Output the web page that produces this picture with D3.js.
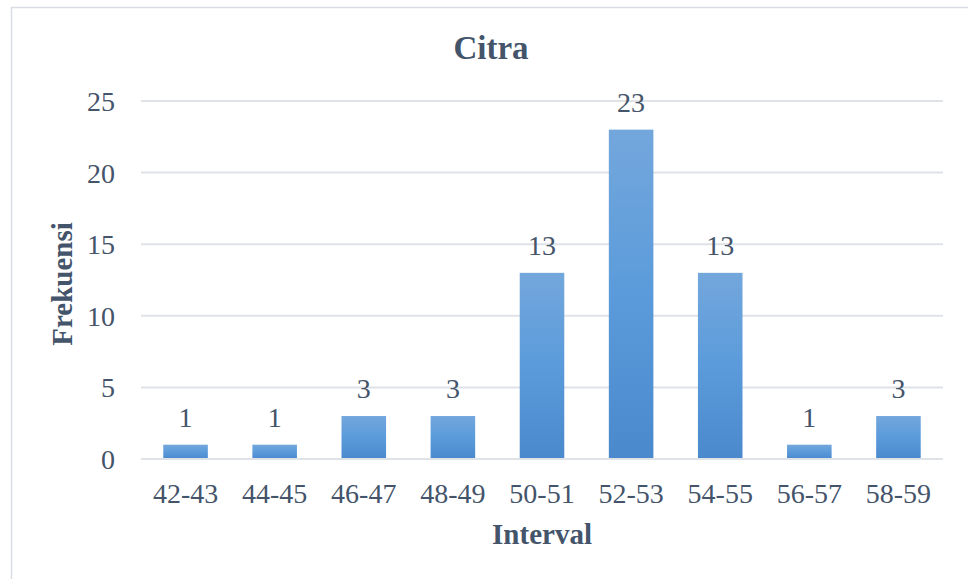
<!DOCTYPE html>
<html>
<head>
<meta charset="utf-8">
<script src="https://cdn.jsdelivr.net/npm/d3@7/dist/d3.min.js"></script>
<style>
  html, body { margin: 0; padding: 0; background: #fff; }
  svg { display: block; }
  text { font-family: "Liberation Serif", "Times New Roman", serif; fill: #44546a; }
</style>
</head>
<body>
<svg id="chart" width="968" height="579"></svg>
<script>
// Frequency distribution of "Citra" scores
const categories = ["42-43", "44-45", "46-47", "48-49", "50-51", "52-53", "54-55", "56-57", "58-59"];
const frequencies = [1, 1, 3, 3, 13, 23, 13, 1, 3];
const yTicks = [0, 5, 10, 15, 20, 25];

const svg = d3.select("#chart");
const W = 968, H = 579;
const plot = { left: 141, right: 943, top: 101, bottom: 459 };

// chart frame
svg.append("rect")
  .attr("x", 11.5).attr("y", 7.5)
  .attr("width", W + 10).attr("height", H + 10)
  .attr("fill", "#fff")
  .attr("stroke", "#d9dde3").attr("stroke-width", 1.5);

const defs = svg.append("defs");
const grad = defs.append("linearGradient")
  .attr("id", "barFill").attr("x1", 0).attr("y1", 0).attr("x2", 0).attr("y2", 1);
grad.append("stop").attr("offset", "0%").attr("stop-color", "#73a7dc");
grad.append("stop").attr("offset", "50%").attr("stop-color", "#5b9bdb");
grad.append("stop").attr("offset", "100%").attr("stop-color", "#4a89cc");

const x = d3.scaleBand().domain(categories)
  .range([plot.left, plot.right]).paddingInner(0.5).paddingOuter(0.25);
const y = d3.scaleLinear().domain([0, 25]).range([plot.bottom, plot.top]);

// horizontal gridlines
svg.append("g").selectAll("line").data(yTicks).join("line")
  .attr("x1", plot.left).attr("x2", plot.right)
  .attr("y1", d => y(d)).attr("y2", d => y(d))
  .attr("stroke", "#dfe2e7").attr("stroke-width", 2);

// y axis tick labels
const yAxis = d3.axisLeft(y).tickValues(yTicks).tickSize(0).tickPadding(26);
const gy = svg.append("g").attr("transform", `translate(${plot.left},0)`).call(yAxis);
gy.select(".domain").remove();
gy.selectAll("text")
  .attr("font-family", "Liberation Serif, Times New Roman, serif")
  .attr("font-size", 28).attr("fill", "#44546a").attr("dy", "0.34em");

// x axis category labels
const xAxis = d3.axisBottom(x).tickSize(0).tickPadding(24);
const gx = svg.append("g").attr("transform", `translate(0,${plot.bottom})`).call(xAxis);
gx.select(".domain").remove();
gx.selectAll("text")
  .attr("font-family", "Liberation Serif, Times New Roman, serif")
  .attr("font-size", 28).attr("fill", "#44546a").attr("dy", "0.71em");

// bars
svg.append("g").selectAll("rect").data(categories).join("rect")
  .attr("x", d => x(d))
  .attr("width", x.bandwidth())
  .attr("y", (d, i) => y(frequencies[i]))
  .attr("height", (d, i) => y(0) - y(frequencies[i]))
  .attr("fill", "url(#barFill)");

// baseline over the bars
svg.append("line")
  .attr("x1", plot.left).attr("x2", plot.right)
  .attr("y1", y(0)).attr("y2", y(0))
  .attr("stroke", "#dfe2e7").attr("stroke-width", 2);

// value labels
svg.append("g").selectAll("text").data(categories).join("text")
  .attr("x", d => x(d) + x.bandwidth() / 2)
  .attr("y", (d, i) => y(frequencies[i]) - 18)
  .attr("text-anchor", "middle")
  .attr("font-size", 28)
  .text((d, i) => frequencies[i]);

// title
svg.append("text")
  .attr("x", 491).attr("y", 59)
  .attr("text-anchor", "middle")
  .attr("font-size", 33).attr("font-weight", "bold")
  .text("Citra");

// axis titles
svg.append("text")
  .attr("x", 542).attr("y", 544)
  .attr("text-anchor", "middle")
  .attr("font-size", 29).attr("font-weight", "bold")
  .text("Interval");

svg.append("text")
  .attr("transform", "translate(72,284) rotate(-90)")
  .attr("text-anchor", "middle")
  .attr("font-size", 29).attr("font-weight", "bold")
  .text("Frekuensi");
</script>
</body>
</html>
